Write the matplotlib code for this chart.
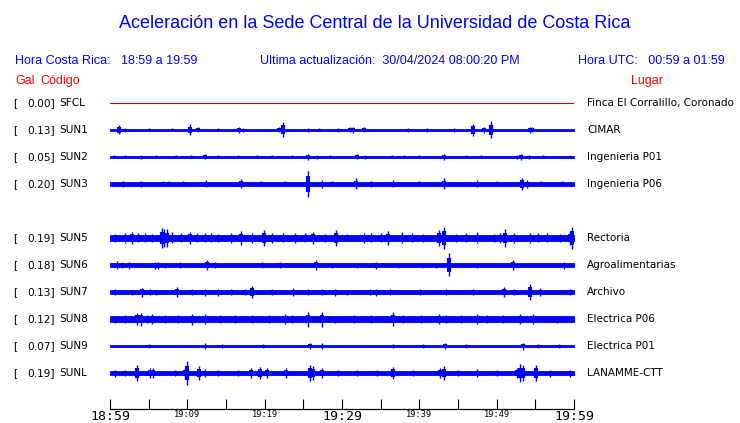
import matplotlib
matplotlib.use("Agg")
import matplotlib.pyplot as plt

# Station data
codes = ["SFCL", "SUN1", "SUN2", "SUN3", "SUN5", "SUN6", "SUN7", "SUN8", "SUN9", "SUNL"]
gal = ["0.00", "0.13", "0.05", "0.20", "0.19", "0.18", "0.13", "0.12", "0.07", "0.19"]
places = ["Finca El Corralillo, Coronado", "CIMAR", "Ingenieria P01", "Ingenieria P06",
          "Rectoria", "Agroalimentarias", "Archivo", "Electrica P06", "Electrica P01",
          "LANAMME-CTT"]
slots = [0, 1, 2, 3, 5, 6, 7, 8, 9, 10]  # slot 4 (SUN4) is empty
# background noise half-width of each trace, in pixels
base_noise = [0.0, 1.3, 0.6, 1.9, 3.4, 2.0, 1.9, 2.9, 1.4, 2.2]

# bursts / spikes: (minutes after 18:59, half amplitude in pixels)
sfcl_events = []
sun1_events = [(1.2, 4.5), (2.0, 2), (5.0, 1.5), (8.0, 1.5), (10.4, 5.5), (11.4, 2.5),
               (14.0, 1.5), (16.7, 3), (17.2, 2), (21.8, 2.5), (22.4, 7.5), (25.6, 2),
               (27.0, 1.5), (29.5, 2), (31.0, 2.5), (31.4, 3), (32.8, 2.5), (38.5, 2),
               (41.0, 1.8), (44.5, 2), (46.9, 6), (48.3, 3), (49.3, 8.5), (54.3, 3),
               (54.6, 2.5)]
sun2_events = [(0.5, 1.5), (2.0, 1.5), (4.0, 2), (6.0, 1.5), (8.5, 1.5), (10.5, 1.5),
               (12.3, 2.5), (14.0, 1.5), (16.5, 1.5), (19.0, 1.5), (21.0, 1.5), (23.5, 1.5),
               (25.6, 3), (26.8, 2), (28.5, 1.5), (31.9, 2.5), (33.0, 2), (36.5, 1.5),
               (38.0, 1.5), (40.0, 1.5), (43.2, 2.8), (46.0, 1.5), (48.0, 1.5), (52.6, 2),
               (53.2, 2.8), (54.2, 2), (56.0, 1.5), (59.5, 1.5)]
sun3_events = [(1.7, 2.8), (4.0, 3), (6.8, 2.5), (7.6, 2.5), (9.5, 2.5), (12.4, 3.5),
               (16.9, 4.5), (19.5, 2.5), (22.6, 2.5), (25.6, 13), (27.4, 4), (28.7, 2.5),
               (31.8, 5.5), (33.8, 3), (36.6, 3.5), (40.0, 2.5), (43.2, 5.5), (47.4, 3.5),
               (50.0, 2.5), (53.3, 6), (53.9, 4), (55.7, 2.5), (58.5, 2.5)]
sun5_events = [(0.65, 4), (1.94, 5), (2.8, 6), (3.66, 4.5), (4.5, 4.5), (5.39, 4),
               (6.68, 10), (7.0, 9), (7.33, 9), (7.97, 5.5), (9.2, 4.5), (10.34, 6),
               (11.3, 4.5), (12.28, 4.5), (13.1, 4.5), (14.0, 4), (15.7, 5), (16.9, 7),
               (18.3, 5), (19.96, 8), (20.9, 5), (22.4, 4.5), (23.9, 5), (25.2, 4.5),
               (26.3, 6), (27.8, 4), (29.2, 8), (30.6, 3.5), (32.8, 5), (33.8, 4.5),
               (35.0, 4.5), (36.0, 7), (37.7, 5.5), (39.0, 4.5), (40.5, 4), (42.5, 8),
               (43.2, 11), (44.8, 4), (46.0, 4.5), (47.4, 5.5), (49.6, 4), (50.4, 5),
               (51.1, 9), (52.2, 5), (54.3, 5), (55.4, 4.5), (56.5, 4.5), (58.2, 4),
               (59.5, 7), (59.8, 11)]
sun6_events = [(0.86, 4), (1.5, 3), (2.46, 3.5), (5.8, 3.5), (6.2, 3.5), (7.1, 2.5),
               (9.05, 3), (12.5, 4.5), (13.6, 3), (19.6, 3), (22.0, 3), (26.6, 4.5),
               (28.7, 2.5), (31.9, 2.5), (34.4, 3.5), (37.3, 2.5), (40.3, 2.5), (42.2, 2.5),
               (43.8, 11.5), (47.4, 2.5), (52.1, 4.5), (55.6, 2), (58.7, 3.5)]
sun7_events = [(0.65, 3), (2.8, 2.5), (4.1, 4.5), (5.2, 3), (6.0, 2.5), (8.6, 5), (10.6, 3),
               (12.3, 3.5), (14.0, 3.5), (15.7, 3), (17.5, 3), (18.4, 6), (20.9, 3),
               (23.7, 4), (25.6, 3), (27.4, 3), (29.1, 3.5), (30.6, 2.5), (33.6, 3),
               (34.4, 3.5), (36.2, 3), (40.1, 3), (43.5, 3), (47.0, 3), (50.9, 5), (52.2, 3),
               (54.3, 8), (55.6, 4), (59.5, 3)]
sun8_events = [(0.65, 3.5), (1.94, 4), (3.45, 6), (4.0, 6.5), (4.74, 4), (5.4, 5), (7.1, 4),
               (8.8, 4), (10.6, 5.5), (12.3, 5), (14.2, 4), (16.2, 4), (18.4, 4), (20.5, 4),
               (22.6, 5), (23.5, 4), (25.6, 7.5), (27.4, 7.5), (29.1, 3.5), (31.5, 4),
               (33.8, 4), (36.6, 7), (37.9, 4), (40.2, 4), (42.5, 5), (43.5, 4), (45.4, 4),
               (47.4, 5), (48.7, 4), (50.8, 4), (53.0, 5), (54.7, 5), (57.8, 3.5)]
sun9_events = [(5.0, 2), (12.3, 2.5), (14.5, 1.7), (19.8, 2), (25.8, 3), (27.4, 2.5),
               (36.6, 2), (40.5, 1.8), (43.3, 3), (46.0, 1.8), (53.4, 3.5), (55.3, 2),
               (58.0, 1.8)]
sunl_events = [(0.65, 3.5), (2.0, 3), (3.45, 8), (5.2, 5), (5.6, 5), (8.4, 3), (9.7, 5),
               (10.0, 12), (11.5, 7), (12.3, 4), (14.0, 3), (16.6, 3), (18.2, 5), (19.4, 6),
               (20.3, 5), (22.8, 5), (25.9, 8), (26.3, 7), (27.4, 5), (29.5, 3), (32.0, 3),
               (34.5, 3), (36.6, 6), (39.2, 3), (42.7, 5), (43.2, 7), (45.0, 3), (47.4, 4),
               (50.0, 3), (52.6, 5), (53.0, 9), (53.4, 8), (55.1, 8), (56.9, 3.5), (59.5, 3.5)]
events = [sfcl_events, sun1_events, sun2_events, sun3_events, sun5_events, sun6_events,
          sun7_events, sun8_events, sun9_events, sunl_events]

tick_minutes = list(range(0, 61, 5))
tick_labels = ["18:59", "", "19:09", "", "19:19", "", "19:29", "", "19:39", "", "19:49", "", "19:59"]

W, H = 740, 423
BLUE = "#0000ff"
RED = "#ff0000"
SLOT_PX = 27.0

fig = plt.figure(figsize=(W / 100, H / 100), dpi=100)


def ftext(x, y, s, **kw):
    fig.text(x / W, 1 - y / H, s, **kw)


# axes: traces from x=110..574 px, slot 0 centred at y=103 px, axis line at y=409 px
top_px, bot_px = 103 - 0.5 * SLOT_PX, 409
ax = fig.add_axes([110 / W, 1 - bot_px / H, 464 / W, (bot_px - top_px) / H])
ax.set_xlim(0, 60)
ax.set_ylim((bot_px - 103) / SLOT_PX, -0.5)

for code, slot, base, ev in zip(codes, slots, base_noise, events):
    if code == "SFCL":
        ax.plot([0, 60], [slot, slot], color="#d00000", lw=0.8)
        continue
    b = base / SLOT_PX
    ax.fill_between([0, 60], slot - b, slot + b, color=BLUE, lw=0.6, edgecolor=BLUE)
    for t, a in ev:
        a = a / SLOT_PX
        ax.vlines(t, slot - a, slot + a, color=BLUE, lw=1.0)
        ax.vlines(t, slot - 0.6 * a, slot + 0.6 * a, color=BLUE, lw=3.0)

for s in ["top", "left", "right"]:
    ax.spines[s].set_visible(False)
ax.spines["bottom"].set_linewidth(0.9)
ax.set_yticks([])
ax.set_xticks(tick_minutes)
ax.set_xticklabels(tick_labels, family="DejaVu Sans Mono")
ax.tick_params(axis="x", direction="in", length=7.2, width=0.8, pad=1)
for lab, m in zip(ax.get_xticklabels(), tick_minutes):
    lab.set_fontsize(9.5 if m % 30 == 0 else 6.2)
ax.patch.set_visible(False)

# header texts
ftext(375, 23, "Aceleración en la Sede Central de la Universidad de Costa Rica",
      color=BLUE, fontsize=13, family="Liberation Sans", ha="center", va="center")
hdr = dict(color=BLUE, fontsize=9, family="Liberation Sans", va="center")
ftext(15, 61, "Hora Costa Rica:   18:59 a 19:59", ha="left", **hdr)
ftext(260, 61, "Ultima actualización:  30/04/2024 08:00:20 PM", ha="left", **hdr)
ftext(725, 61, "Hora UTC:   00:59 a 01:59", ha="right", **hdr)
red = dict(color=RED, fontsize=9, family="Liberation Sans", va="center")
ftext(15, 81, "Gal", ha="left", **red)
ftext(40, 81, "Código", ha="left", **red)
ftext(663, 81, "Lugar", ha="right", **red)

# station labels
lab = dict(color="black", fontsize=7.6, family="DejaVu Sans", va="center")
plc = dict(color="black", fontsize=7.45, family="DejaVu Sans", va="center")
for code, g, place, slot in zip(codes, gal, places, slots):
    y = 103 + SLOT_PX * slot
    ftext(13, y, "[", ha="left", **lab)
    ftext(55, y, g + "]", ha="right", **lab)
    ftext(59, y, code, ha="left", **lab)
    ftext(587, y, place, ha="left", **plc)

fig.savefig("out.png", dpi=100)
